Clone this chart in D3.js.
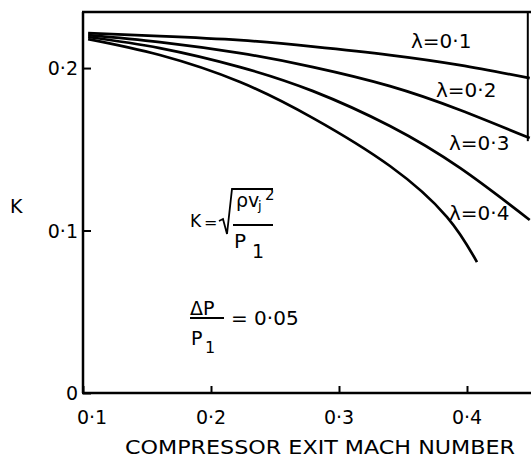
<!DOCTYPE html>
<html>
<head>
<meta charset="utf-8">
<script src="https://cdn.jsdelivr.net/npm/d3@7"></script>
<style>
  body { margin: 0; background: #fff; }
  text { font-family: "DejaVu Sans", sans-serif; fill: #000; }
</style>
</head>
<body>
<div id="chart"></div>
<script>
var svgWidth = 532;
var svgHeight = 458;

// data (mach number, K)
var lambdas = ["0·1", "0·2", "0·3", "0·4"];
var machA = [0.104, 0.160, 0.2227, 0.2797, 0.3398, 0.3945, 0.449];
var k01 = [0.2215, 0.2197, 0.2172, 0.2132, 0.2080, 0.2018, 0.1938];
var k02 = [0.2203, 0.2160, 0.2092, 0.2006, 0.1889, 0.1742, 0.1569];
var k03 = [0.2191, 0.2123, 0.2006, 0.1858, 0.1643, 0.1385, 0.1065];
var machB = [0.104, 0.160, 0.2227, 0.2797, 0.3398, 0.3844, 0.4078];
var k04 = [0.2178, 0.2080, 0.1914, 0.1692, 0.1397, 0.1083, 0.0806];
var xTicks = [0.1, 0.2, 0.3, 0.4];
var xTickLabels = ["0·1", "0·2", "0·3", "0·4"];
var yTicks = [0, 0.1, 0.2];
var yTickLabels = ["0", "0·1", "0·2"];

var margin = { top: 12, right: 1, bottom: 65, left: 83 };

var svg = d3.select("#chart").append("svg")
  .attr("width", svgWidth)
  .attr("height", svgHeight);

var x = d3.scaleLinear().domain([0.1, 0.45]).range([margin.left, svgWidth - margin.right]);
var y = d3.scaleLinear().domain([0, 0.2345]).range([svgHeight - margin.bottom, margin.top]);

// frame
svg.append("line")
  .attr("x1", x(0.1)).attr("x2", x(0.1))
  .attr("y1", y(0.2345)).attr("y2", y(0))
  .attr("stroke", "#000").attr("stroke-width", 2.5);
svg.append("line")
  .attr("x1", x(0.1) - 1).attr("x2", x(0.45))
  .attr("y1", y(0.2345)).attr("y2", y(0.2345))
  .attr("stroke", "#000").attr("stroke-width", 2.5);
svg.append("line")
  .attr("x1", x(0.1) - 1).attr("x2", x(0.45))
  .attr("y1", y(0)).attr("y2", y(0))
  .attr("stroke", "#000").attr("stroke-width", 2.5);
// right edge only shows down to about the end of lambda 0.2
svg.append("line")
  .attr("x1", x(0.4475)).attr("x2", x(0.4475))
  .attr("y1", y(0.2345)).attr("y2", y(0.155))
  .attr("stroke", "#000").attr("stroke-width", 2);

// axes with inward ticks
var xAxis = d3.axisBottom(x).tickValues(xTicks).tickSize(-7).tickFormat("");
var gx = svg.append("g").attr("transform", `translate(0, ${y(0)})`).call(xAxis);
gx.select(".domain").remove();
gx.selectAll("line").attr("stroke-width", 2);

var yAxis = d3.axisLeft(y).tickValues(yTicks).tickSize(-8).tickFormat("");
var gy = svg.append("g").attr("transform", `translate(${x(0.1)}, 0)`).call(yAxis);
gy.select(".domain").remove();
gy.selectAll("line").attr("stroke-width", 2);

// tick labels
svg.selectAll(".xlab")
  .data(xTicks)
  .enter()
  .append("text")
  .attr("x", (d, i) => x(d) + (i === 0 ? 9 : 0))
  .attr("y", 424)
  .attr("text-anchor", "middle")
  .attr("font-size", "19px")
  .text((d, i) => xTickLabels[i]);

svg.selectAll(".ylab")
  .data(yTicks)
  .enter()
  .append("text")
  .attr("x", x(0.1) - 5)
  .attr("y", d => y(d) + 7)
  .attr("text-anchor", "end")
  .attr("font-size", "19px")
  .text((d, i) => yTickLabels[i]);

// axis titles
svg.append("text")
  .attr("x", 125)
  .attr("y", 454)
  .attr("font-size", "19px")
  .attr("textLength", 390)
  .attr("lengthAdjust", "spacingAndGlyphs")
  .text("COMPRESSOR EXIT MACH NUMBER");

svg.append("text")
  .attr("x", 10)
  .attr("y", 213)
  .attr("font-size", "19px")
  .text("K");

// curves
var line = d3.line()
  .x(d => x(d[0]))
  .y(d => y(d[1]))
  .curve(d3.curveNatural);

var curves = [
  d3.zip(machA, k01),
  d3.zip(machA, k02),
  d3.zip(machA, k03),
  d3.zip(machB, k04)
];
svg.selectAll(".curve")
  .data(curves)
  .enter()
  .append("path")
  .attr("d", line)
  .attr("fill", "none")
  .attr("stroke", "#000")
  .attr("stroke-width", 2.7);

// lambda labels
var labelPos = [[411, 48], [436, 97], [449, 150], [449, 220]];
svg.selectAll(".lam")
  .data(lambdas)
  .enter()
  .append("text")
  .attr("x", (d, i) => labelPos[i][0])
  .attr("y", (d, i) => labelPos[i][1])
  .attr("font-size", "20px")
  .text(d => "λ=" + d);

// formula K = sqrt(rho vj^2 / P1)
var f = svg.append("g");
f.append("text").attr("x", 190).attr("y", 227).attr("font-size", "17px").text("K");
f.append("text").attr("x", 204).attr("y", 228).attr("font-size", "16px").text("=");
f.append("path")
  .attr("d", "M219,221 L223,219 L227,234 L232,189 L273,189")
  .attr("fill", "none").attr("stroke", "#000").attr("stroke-width", 1.8);
f.append("text").attr("x", 236).attr("y", 207).attr("font-size", "19px").text("ρv");
f.append("text").attr("x", 258).attr("y", 210).attr("font-size", "13px").text("j");
f.append("text").attr("x", 265).attr("y", 200).attr("font-size", "15px").text("2");
f.append("line").attr("x1", 233).attr("x2", 273).attr("y1", 225).attr("y2", 225)
  .attr("stroke", "#000").attr("stroke-width", 1.8);
f.append("text").attr("x", 234).attr("y", 248).attr("font-size", "20px").text("P");
f.append("text").attr("x", 252).attr("y", 258).attr("font-size", "19px").text("1");

// delta P / P1 = 0.05
var g2 = svg.append("g");
g2.append("text").attr("x", 190).attr("y", 315).attr("font-size", "19px").text("ΔP");
g2.append("line").attr("x1", 190).attr("x2", 224).attr("y1", 318).attr("y2", 318)
  .attr("stroke", "#000").attr("stroke-width", 1.8);
g2.append("text").attr("x", 191).attr("y", 345).attr("font-size", "19px").text("P");
g2.append("text").attr("x", 205).attr("y", 353).attr("font-size", "16px").text("1");
g2.append("text").attr("x", 231).attr("y", 325).attr("font-size", "20px").text("= 0·05");
</script>
</body>
</html>
